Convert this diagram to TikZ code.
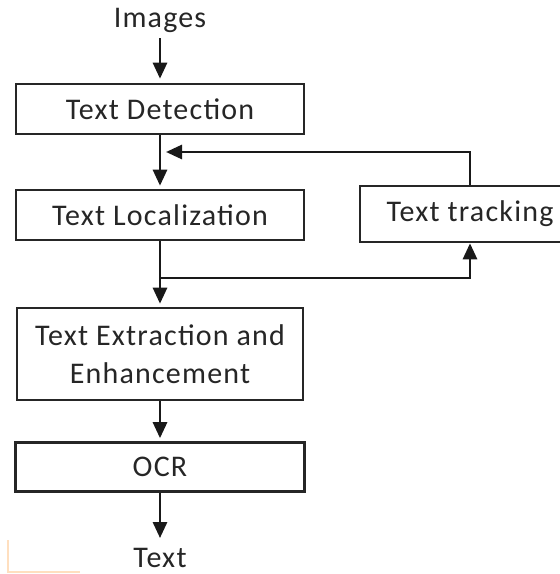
\documentclass[tikz,border=0pt]{standalone}
\usepackage{fontspec}
\setmainfont{Carlito}[LetterSpace=4]
\usepackage{tikz}
\usetikzlibrary{arrows.meta}
\tikzstyle{stagebox} = [draw=black!85, line width=2.6pt, rectangle, inner sep=0pt, align=center, text=black!85, font=\fontsize{30}{38}\selectfont]
\tikzstyle{flow} = [draw=black!90, line width=2.8pt, -{Triangle[width=14pt,length=16pt]}]
\tikzstyle{plaintext} = [font=\fontsize{30}{36}\selectfont, text=black!85, inner sep=0pt]

\begin{document}
\begin{tikzpicture}[x=1pt,y=-1pt]
\useasboundingbox (0,0) rectangle (560,574);
\clip (0,0) rectangle (560,574);
\node [plaintext] (images) at (160,20) {Images};
\node [stagebox, minimum width=288pt, minimum height=50pt] (det) at (160,109) {Text Detection};
\node [stagebox, minimum width=288pt, minimum height=50pt] (loc) at (160,215) {Text Localization};
\node [stagebox, minimum width=220pt, minimum height=56pt] (track) at (470,214) {Text tracking};
\node [stagebox, minimum width=286pt, minimum height=92pt] (ext) at (160,354) {Text Extraction and\\ Enhancement};
\node [stagebox, minimum width=289pt, minimum height=49pt] (ocr) at (160,467) {OCR};
\node [plaintext] (out) at (160,558) {Text};
\coordinate (fb) at (166,152);
\coordinate (split) at (160,278);

% main chain
\draw [flow] ([yshift=-6pt]images.south) -- ([yshift=4pt]det.north);
\draw [flow] (det.south) -- ([yshift=3pt]loc.north);
\draw [flow] (loc.south) -- ([yshift=3pt]ext.north);
\draw [flow] (ext.south) -- ([yshift=3pt]ocr.north);
\draw [flow] (ocr.south) -- ([yshift=10pt]out.north);

% tracking loop
\draw [flow] (track.north) |- (fb);
\draw [flow] (split) -| (track.south);

% faint mark in the corner
\draw [orange!25, line width=1.5pt] (8,540) -- (8,572) -- (80,572);
\end{tikzpicture}
\end{document}
